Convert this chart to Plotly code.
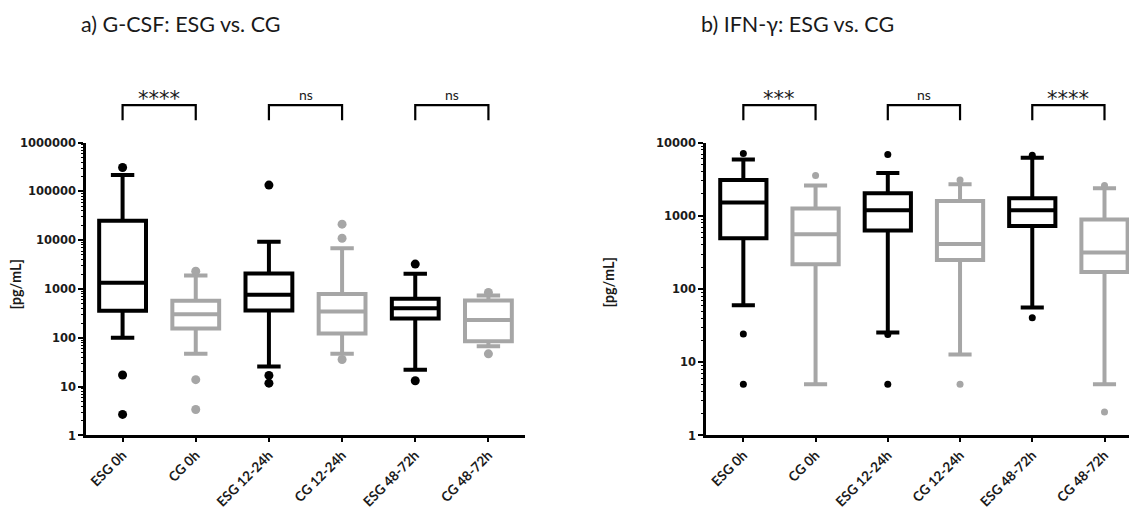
import plotly.graph_objects as go

categories = ["ESG 0h", "CG 0h", "ESG 12-24h", "CG 12-24h", "ESG 48-72h", "CG 48-72h"]

# Panel a) G-CSF
gcsf_q1 = [360, 156, 362, 123, 250, 85]
gcsf_median = [1340, 303, 765, 346, 405, 232]
gcsf_q3 = [25000, 575, 2090, 790, 630, 585]
gcsf_lower = [101, 47, 26, 47, 22.3, 67]
gcsf_upper = [218000, 1900, 9300, 6900, 2050, 740]
gcsf_outliers = [[310000, 17.3, 2.7], [2330, 13.9, 3.4], [135000, 17, 11.8],
                 [21400, 11000, 36], [3250, 13.2], [850, 47]]

# Panel b) IFN-γ
ifn_q1 = [495, 218, 630, 250, 725, 171]
ifn_median = [1520, 563, 1190, 413, 1190, 316]
ifn_q3 = [3100, 1260, 2040, 1590, 1740, 890]
ifn_lower = [60, 5.0, 25.6, 12.8, 56, 5.0]
ifn_upper = [5900, 2600, 3850, 2700, 6200, 2380]
ifn_outliers = [[7100, 24.4, 5.0], [3550], [6900, 24, 5.0], [3100, 5.0],
                [6750, 40.7], [2600, 2.1]]

significance_a = ["****", "ns", "ns"]
significance_b = ["***", "ns", "****"]

titles = ["a) G-CSF: ESG vs. CG", "b) IFN-γ: ESG vs. CG"]
y_title = "[pg/mL]"

BLACK = "#000000"
GRAY = "#A6A6A6"
TXT = "#1a1a1a"
TICKFONT = "DejaVu Sans"
TEXTFONT = "Lato"

fig = go.Figure()

def add_panel(q1, med, q3, lo, hi, outl, xa, ya, dot_size):
    for start, color in [(0, BLACK), (1, GRAY)]:
        idx = list(range(start, 6, 2))
        fig.add_trace(go.Box(
            x=[categories[i] for i in idx],
            q1=[q1[i] for i in idx], median=[med[i] for i in idx], q3=[q3[i] for i in idx],
            lowerfence=[lo[i] for i in idx], upperfence=[hi[i] for i in idx],
            boxpoints=False, fillcolor="white",
            line=dict(color=color, width=4), width=0.64, whiskerwidth=0.5,
            xaxis=xa, yaxis=ya, showlegend=False, hoverinfo="skip"))
        xs, ys = [], []
        for i in idx:
            for v in outl[i]:
                xs.append(categories[i]); ys.append(v)
        fig.add_trace(go.Scatter(
            x=xs, y=ys, mode="markers",
            marker=dict(color=color, size=dot_size, line=dict(width=0)),
            xaxis=xa, yaxis=ya, showlegend=False, hoverinfo="skip"))

add_panel(gcsf_q1, gcsf_median, gcsf_q3, gcsf_lower, gcsf_upper, gcsf_outliers, "x", "y", 9)
add_panel(ifn_q1, ifn_median, ifn_q3, ifn_lower, ifn_upper, ifn_outliers, "x2", "y2", 7)

W, H = 1137, 512
# map reference-picture pixel positions to figure paper fractions
def px_x(p): return (p - 8) / W
def px_y(p): return (H - (p - 19) / 0.96) / H

xax_common = dict(type="category", categoryorder="array", categoryarray=categories,
                  showline=True, linecolor=BLACK, linewidth=2.5, ticks="outside",
                  ticklen=4, tickwidth=2, tickcolor=BLACK, tickangle=-45,
                  tickfont=dict(family=TEXTFONT, size=13.5, color=TXT, weight="bold"),
                  showgrid=False, zeroline=False, fixedrange=True)

def yax(decades):
    vals = [10 ** k for k in range(decades + 1)]
    return dict(type="log", range=[0, decades], tickvals=vals, ticktext=[str(v) for v in vals],
                showline=True, linecolor=BLACK, linewidth=2.5, ticks="outside",
                ticklen=5, tickwidth=2, tickcolor=BLACK,
                tickfont=dict(family=TICKFONT, size=11.5, color=TXT, weight="bold"),
                minor=dict(ticks="outside", ticklen=2, tickwidth=1, tickcolor=BLACK,
                           tickvals=[m * 10 ** k for k in range(decades) for m in range(2, 10)],
                           showgrid=False),
                showgrid=False, zeroline=False, fixedrange=True)

y_dom = [px_y(434), px_y(145)]
fig.update_layout(
    width=W, height=H, margin=dict(l=0, r=0, t=0, b=0),
    paper_bgcolor="white", plot_bgcolor="white",
    xaxis=dict(xax_common, domain=[px_x(86), px_x(525)], range=[-0.5, 5.5], anchor="y"),
    yaxis=dict(yax(6), domain=y_dom, anchor="x"),
    xaxis2=dict(xax_common, domain=[px_x(706), px_x(1137)], range=[-0.517, 5.45], anchor="y2"),
    yaxis2=dict(yax(4), domain=y_dom, anchor="x2"),
)

annotations = []
shapes = []
for xa, sigs in [("x", significance_a), ("x2", significance_b)]:
    for k, s in enumerate(sigs):
        i0, i1 = 2 * k, 2 * k + 1
        shapes.append(dict(type="path", xref=xa, yref="paper",
                           path=f"M {i0},{px_y(123)} L {i0},{px_y(108)} L {i1},{px_y(108)} L {i1},{px_y(123)}",
                           line=dict(color=BLACK, width=2.2)))
        if "*" in s:
            annotations.append(dict(x=(i0 + i1) / 2, y=px_y(102), xref=xa, yref="paper",
                                    text=s, showarrow=False, yanchor="middle",
                                    font=dict(family=TICKFONT, size=21, color=TXT)))
        else:
            annotations.append(dict(x=(i0 + i1) / 2, y=px_y(97), xref=xa, yref="paper",
                                    text=s, showarrow=False, yanchor="middle",
                                    font=dict(family=TEXTFONT, size=14, color=TXT)))

for tx, t in [(79, titles[0]), (699, titles[1])]:
    annotations.append(dict(x=px_x(tx), y=1.012, xref="paper", yref="paper", text=t,
                            showarrow=False, xanchor="left", yanchor="top",
                            font=dict(family=TEXTFONT, size=21.5, color=TXT)))
for xc, yc in [(16, 285), (608, 283)]:
    annotations.append(dict(x=px_x(xc), y=px_y(yc), xref="paper", yref="paper", text=y_title,
                            showarrow=False, textangle=-90, xanchor="center", yanchor="middle",
                            font=dict(family=TEXTFONT, size=14.5, color=TXT, weight="bold")))

fig.update_layout(annotations=annotations, shapes=shapes)
fig.write_html("out.html")
